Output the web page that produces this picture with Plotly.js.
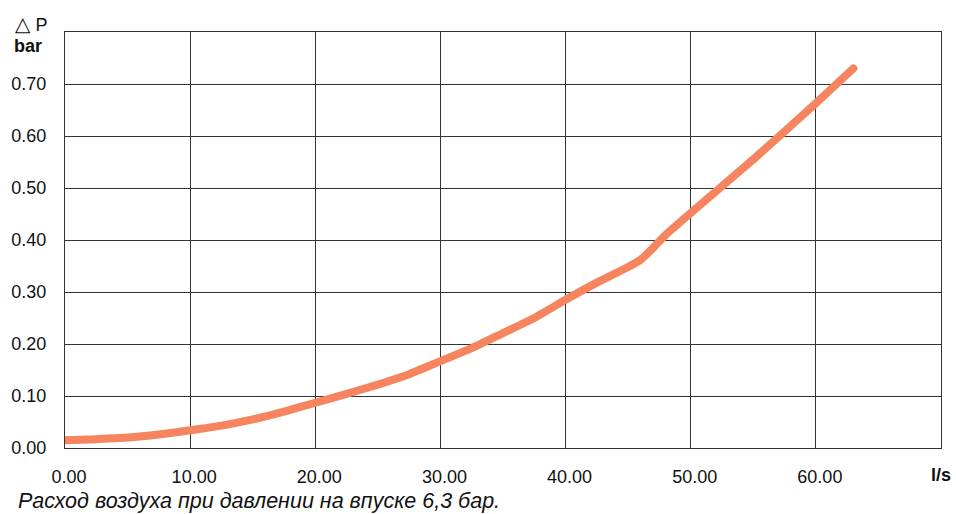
<!DOCTYPE html>
<html>
<head>
<meta charset="utf-8">
<script src="https://cdn.plot.ly/plotly-3.0.1.min.js"></script>
<style>
  html, body { margin: 0; padding: 0; background: #fff; }
  #chart { width: 956px; height: 514px; }
  .scatterlayer path.js-line { stroke-linecap: round; stroke-linejoin: round; }
</style>
</head>
<body>
<div id="chart"></div>
<script>
// Flow (l/s) vs pressure drop (bar)
const flow = [0, 2.5, 5, 7.5, 10, 12.5, 15, 17.5, 20, 22.5, 25, 27.5, 30, 32.5, 35, 37.5, 40, 42.5, 45, 46, 47, 48, 50, 55, 60, 63];
const deltaP = [0.015, 0.017, 0.020, 0.026, 0.034, 0.043, 0.055, 0.070, 0.087, 0.104, 0.122, 0.142, 0.167, 0.192, 0.221, 0.250, 0.285, 0.318, 0.348, 0.362, 0.385, 0.410, 0.452, 0.555, 0.663, 0.730];
const xTicks = [0, 10, 20, 30, 40, 50, 60];
const xTickText = ["0.00", "10.00", "20.00", "30.00", "40.00", "50.00", "60.00"];
const yTicks = [0, 0.1, 0.2, 0.3, 0.4, 0.5, 0.6, 0.7];
const yTickText = ["0.00", "0.10", "0.20", "0.30", "0.40", "0.50", "0.60", "0.70"];

const FONT = "Liberation Sans, Arial, sans-serif";

const trace = {
  x: flow, y: deltaP, type: 'scatter', mode: 'lines',
  line: { color: '#F5845F', width: 8, shape: 'spline', smoothing: 0.5 },
  hoverinfo: 'skip'
};

const layout = {
  width: 956, height: 514,
  margin: { l: 65, r: 15, t: 32, b: 66 },
  paper_bgcolor: '#fff', plot_bgcolor: '#fff',
  showlegend: false,
  font: { family: FONT, size: 18, color: '#111' },
  xaxis: {
    range: [0, 70], tickvals: xTicks, ticktext: xTickText,
    showgrid: true, gridcolor: '#333', gridwidth: 1,
    showline: true, linecolor: '#333', linewidth: 1, mirror: true,
    zeroline: false, ticks: '', ticklabelstandoff: 12, ticklabelshift: 4,
    tickfont: { family: FONT, size: 18, color: '#111' }, fixedrange: true
  },
  yaxis: {
    range: [0, 0.8], tickvals: yTicks, ticktext: yTickText,
    showgrid: true, gridcolor: '#333', gridwidth: 1,
    showline: true, linecolor: '#333', linewidth: 1, mirror: true,
    zeroline: false, ticks: '', ticklabelstandoff: 14,
    tickfont: { family: FONT, size: 18, color: '#111' }, fixedrange: true
  },
  annotations: [
    { text: '<span style="font-family:DejaVu Sans;font-size:20px">△</span> P', xref: 'paper', yref: 'paper', x: -0.0594, y: 1.019, xanchor: 'left', yanchor: 'middle',
      showarrow: false, font: { family: FONT, size: 18, color: '#111' } },
    { text: '<b>bar</b>', xref: 'paper', yref: 'paper', x: -0.0605, y: 0.966, xanchor: 'left', yanchor: 'middle',
      showarrow: false, font: { family: FONT, size: 18, color: '#111' } },
    { text: '<b>l/s</b>', xref: 'paper', yref: 'paper', x: 1.0137, y: -0.065, xanchor: 'right', yanchor: 'middle',
      showarrow: false, font: { family: FONT, size: 18, color: '#111' } },
    { text: '<i>Расход воздуха при давлении на впуске 6,3 бар.</i>', xref: 'paper', yref: 'paper', x: -0.0559, y: -0.1274,
      xanchor: 'left', yanchor: 'middle', showarrow: false, font: { family: FONT, size: 21.5, color: '#111' } }
  ]
};

Plotly.newPlot('chart', [trace], layout, { staticPlot: true, displayModeBar: false });
</script>
</body>
</html>
